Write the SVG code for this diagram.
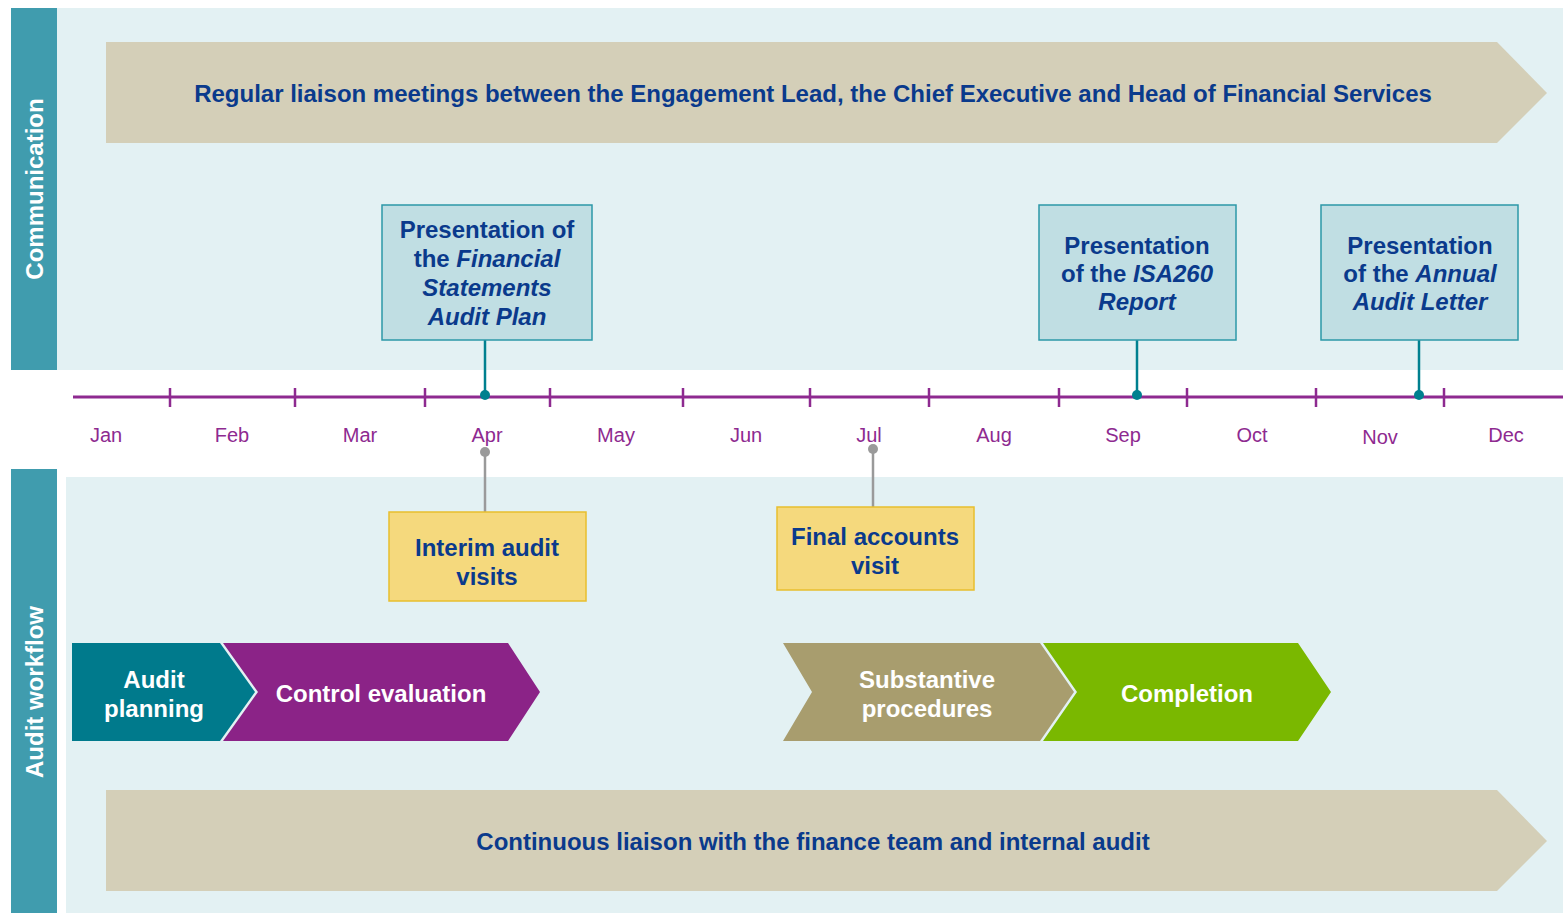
<svg xmlns="http://www.w3.org/2000/svg" width="1563" height="915" viewBox="0 0 1563 915">
  <defs>
    <style>
      text { font-family: "Liberation Sans", Arial, sans-serif; font-weight: bold; text-anchor: middle; }
      .band { fill: #409CAE; }
      .panel { fill: #E3F1F3; }
      .banner { fill: #D4CFB8; }
      .navy { fill: #0A3A8C; font-size: 24px; }
      .boxt { fill: #0A3A8C; font-size: 24px; }
      .white { fill: #FFFFFF; font-size: 24px; }
      .side { fill: #FFFFFF; font-size: 24px; }
      .month { fill: #8E2A90; font-size: 20px; font-weight: normal; }
      .pbox { fill: #C0DEE3; stroke: #2C98A8; stroke-width: 1.5; }
      .ybox { fill: #F5D97D; stroke: #E8BE2E; stroke-width: 1.5; }
      .tline { stroke: #8E2A90; stroke-width: 3; }
      .tick { stroke: #8E2A90; stroke-width: 2.5; }
      .tconn { stroke: #00808F; stroke-width: 2.5; }
      .gconn { stroke: #9A9A9A; stroke-width: 2.5; }
      .tdot { fill: #00808F; }
      .gdot { fill: #9A9A9A; }
    </style>
  </defs>

  <rect width="1563" height="915" fill="#FFFFFF"/>

  <!-- Communication lane -->
  <g id="lane-communication">
    <rect class="panel" x="57" y="8" width="1506" height="362"/>
    <rect class="band" x="11" y="8" width="46" height="362"/>
    <text class="side" transform="translate(43 189) rotate(-90)">Communication</text>
  </g>

  <!-- Audit workflow lane -->
  <g id="lane-workflow">
    <rect class="panel" x="66" y="477" width="1497" height="436"/>
    <rect class="band" x="11" y="469" width="46" height="444"/>
    <text class="side" transform="translate(43 692) rotate(-90)">Audit workflow</text>
  </g>

  <g id="banner-liaison">
    <polygon class="banner" points="106,42 1497,42 1547,93 1497,143 106,143"/>
    <text class="navy" x="813" y="102">Regular liaison meetings between the Engagement Lead, the Chief Executive and Head of Financial Services</text>
  </g>

  <g id="banner-continuous">
    <polygon class="banner" points="106,790 1497,790 1547,841 1497,891 106,891"/>
    <text class="navy" x="813" y="850">Continuous liaison with the finance team and internal audit</text>
  </g>

  <!-- Timeline -->
  <g id="timeline">
    <line class="tline" x1="73" y1="397" x2="1563" y2="397"/>
    <g class="tick">
      <line x1="170" y1="388" x2="170" y2="407"/>
      <line x1="295" y1="388" x2="295" y2="407"/>
      <line x1="425" y1="388" x2="425" y2="407"/>
      <line x1="550" y1="388" x2="550" y2="407"/>
      <line x1="683" y1="388" x2="683" y2="407"/>
      <line x1="810" y1="388" x2="810" y2="407"/>
      <line x1="929" y1="388" x2="929" y2="407"/>
      <line x1="1059" y1="388" x2="1059" y2="407"/>
      <line x1="1187" y1="388" x2="1187" y2="407"/>
      <line x1="1316" y1="388" x2="1316" y2="407"/>
      <line x1="1444" y1="388" x2="1444" y2="407"/>
    </g>
    <text class="month" x="106" y="442">Jan</text>
    <text class="month" x="232" y="442">Feb</text>
    <text class="month" x="360" y="442">Mar</text>
    <text class="month" x="487" y="442">Apr</text>
    <text class="month" x="616" y="442">May</text>
    <text class="month" x="746" y="442">Jun</text>
    <text class="month" x="869" y="442">Jul</text>
    <text class="month" x="994" y="442">Aug</text>
    <text class="month" x="1123" y="442">Sep</text>
    <text class="month" x="1252" y="442">Oct</text>
    <text class="month" x="1380" y="444">Nov</text>
    <text class="month" x="1506" y="442">Dec</text>
  </g>

  <!-- Connectors from milestones to the timeline -->
  <g id="connectors">
    <line class="tconn" x1="485" y1="340" x2="485" y2="395"/>
    <circle class="tdot" cx="485" cy="395" r="5"/>
    <line class="tconn" x1="1137" y1="340" x2="1137" y2="395"/>
    <circle class="tdot" cx="1137" cy="395" r="5"/>
    <line class="tconn" x1="1419" y1="340" x2="1419" y2="395"/>
    <circle class="tdot" cx="1419" cy="395" r="5"/>
    <line class="gconn" x1="485" y1="452" x2="485" y2="512"/>
    <circle class="gdot" cx="485" cy="452" r="5"/>
    <line class="gconn" x1="873" y1="449" x2="873" y2="507"/>
    <circle class="gdot" cx="873" cy="449" r="5"/>
  </g>

  <g id="milestone-plan">
    <rect class="pbox" x="382" y="205" width="210" height="135"/>
    <text class="boxt" x="487" y="238">Presentation of</text>
    <text class="boxt" x="487" y="267">the <tspan font-style="italic">Financial</tspan></text>
    <text class="boxt" x="487" y="296" font-style="italic">Statements</text>
    <text class="boxt" x="487" y="325" font-style="italic">Audit Plan</text>
  </g>

  <g id="milestone-isa260">
    <rect class="pbox" x="1039" y="205" width="197" height="135"/>
    <text class="boxt" x="1137" y="254">Presentation</text>
    <text class="boxt" x="1137" y="282">of the <tspan font-style="italic">ISA260</tspan></text>
    <text class="boxt" x="1137" y="310" font-style="italic">Report</text>
  </g>

  <g id="milestone-letter">
    <rect class="pbox" x="1321" y="205" width="197" height="135"/>
    <text class="boxt" x="1420" y="254">Presentation</text>
    <text class="boxt" x="1420" y="282">of the <tspan font-style="italic">Annual</tspan></text>
    <text class="boxt" x="1420" y="310" font-style="italic">Audit Letter</text>
  </g>

  <g id="visit-interim">
    <rect class="ybox" x="389" y="512" width="197" height="89"/>
    <text class="boxt" x="487" y="556">Interim audit</text>
    <text class="boxt" x="487" y="585">visits</text>
  </g>

  <g id="visit-final">
    <rect class="ybox" x="777" y="507" width="197" height="83"/>
    <text class="boxt" x="875" y="545">Final accounts</text>
    <text class="boxt" x="875" y="574">visit</text>
  </g>

  <!-- Workflow phases -->
  <g id="phase-planning">
    <polygon fill="#007A8C" points="72,643 220,643 255,692 220,741 72,741"/>
    <text class="white" x="154" y="688">Audit</text>
    <text class="white" x="154" y="717">planning</text>
  </g>

  <g id="phase-control">
    <polygon fill="#8B2387" points="223,643 508,643 540,692 508,741 223,741 258,692"/>
    <text class="white" x="381" y="702">Control evaluation</text>
  </g>

  <g id="phase-substantive">
    <polygon fill="#A89D6E" points="783,643 1040,643 1074,692 1040,741 783,741 812,692"/>
    <text class="white" x="927" y="688">Substantive</text>
    <text class="white" x="927" y="717">procedures</text>
  </g>

  <g id="phase-completion">
    <polygon fill="#7AB800" points="1043,643 1298,643 1331,692 1298,741 1043,741 1077,692"/>
    <text class="white" x="1187" y="702">Completion</text>
  </g>
</svg>
